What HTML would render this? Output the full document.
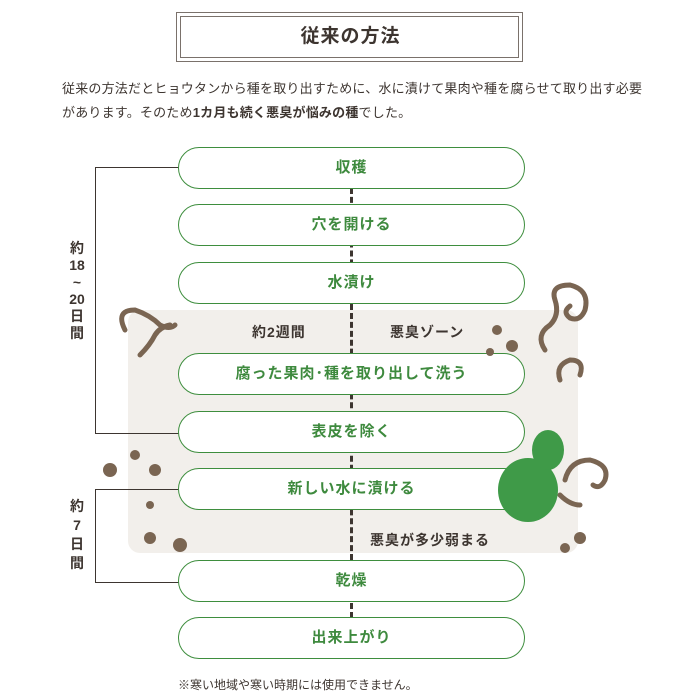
<!DOCTYPE html>
<html><head><meta charset="utf-8"><style>
body{margin:0;width:700px;height:700px;background:#fff;position:relative;overflow:hidden;font-family:"Liberation Sans","Noto Sans CJK JP",sans-serif;color:#3d3530}
.a{position:absolute}
.pill{position:absolute;left:178px;width:345px;height:40px;border:1.6px solid #3e8e3e;border-radius:21px;background:#fff;color:#3e8a3e;font-size:15px;font-weight:bold;text-align:center;line-height:40px;letter-spacing:1px}
.dash{position:absolute;left:350px;width:0;border-left:3px dashed #3d3530}
.lbl{position:absolute;font-size:14px;font-weight:bold;color:#3d3530;letter-spacing:1px}
</style></head><body>
<div class="a" style="left:176px;top:12px;width:345px;height:48px;border:1.5px solid #7a716b"></div>
<div class="a" style="left:180px;top:16px;width:337px;height:40px;border:1px solid #7a716b"></div>
<div class="a" style="left:176px;top:21px;width:349px;text-align:center;font-size:19px;font-weight:bold;letter-spacing:1px">従来の方法</div>
<div class="a" style="left:62px;top:77px;white-space:nowrap;font-size:13px;line-height:24px;color:#3d3530;letter-spacing:0.2px">従来の方法だとヒョウタンから種を取り出すために、水に漬けて果肉や種を腐らせて取り出す必要<br>があります。そのため<b>1カ月も続く悪臭が悩みの種</b>でした。</div>
<div class="a" style="left:128px;top:310px;width:450px;height:243px;background:#f2efeb;border-radius:12px"></div>
<div class="dash" style="top:188px;height:372px"></div>
<div class="dash" style="top:603px;height:15px"></div>
<div class="a" style="left:95px;top:167px;width:83px;height:265px;border:1.5px solid #3d3530;border-right:none"></div>
<div class="a" style="left:95px;top:489px;width:83px;height:92px;border:1.5px solid #3d3530;border-right:none"></div>
<div class="a" style="left:62px;top:240px;width:30px;background:#fff;text-align:center;font-size:14px;font-weight:bold;line-height:17px">約<br>18<br>~<br>20<br>日<br>間</div>
<div class="a" style="left:62px;top:497px;width:30px;background:#fff;text-align:center;font-size:14px;font-weight:bold;line-height:19px">約<br>7<br>日<br>間</div>
<div class="lbl" style="left:252px;top:322px">約2週間</div>
<div class="lbl" style="left:390px;top:322px">悪臭ゾーン</div>
<div class="lbl" style="left:370px;top:530px">悪臭が多少弱まる</div>
<div class="pill" style="top:147px">収穫</div>
<div class="pill" style="top:204px">穴を開ける</div>
<div class="pill" style="top:262px">水漬け</div>
<div class="pill" style="top:353px">腐った果肉･種を取り出して洗う</div>
<div class="pill" style="top:411px">表皮を除く</div>
<div class="pill" style="top:468px">新しい水に漬ける</div>
<div class="pill" style="top:560px">乾燥</div>
<div class="pill" style="top:617px">出来上がり</div>
<svg class="a" style="left:0;top:0" width="700" height="700">
<g fill="none" stroke="#7a6552" stroke-width="5" stroke-linecap="round">
<path d="M125 330 q-10 -20 10 -20 q15 5 25 15 q10 5 15 0"/>
<path d="M140 355 q10 -10 15 -20 q5 -8 15 -10"/>
<path d="M545 350 q-10 -15 5 -25 q10 -10 5 -25 q-5 -15 15 -15 q20 5 15 25 q-5 12 -15 8 q-8 -6 0 -12"/>
<path d="M560 380 q-5 -15 10 -20 q15 0 10 15"/>
<path d="M565 480 q5 -20 25 -20 q20 5 15 20 q-5 10 -12 5"/>
<path d="M560 495 q10 10 20 10"/>
</g>
<g fill="#7a6552">
<circle cx="512" cy="346" r="6"/><circle cx="490" cy="352" r="4"/><circle cx="497" cy="330" r="5"/>
<circle cx="110" cy="470" r="7"/><circle cx="135" cy="455" r="5"/><circle cx="155" cy="470" r="6"/>
<circle cx="150" cy="505" r="4"/><circle cx="150" cy="538" r="6"/><circle cx="180" cy="545" r="7"/>
<circle cx="580" cy="538" r="6"/><circle cx="565" cy="548" r="5"/>
</g>
<g fill="#3f9a48">
<ellipse cx="528" cy="490" rx="30" ry="32"/>
<ellipse cx="548" cy="450" rx="16" ry="20"/>
</g>
</svg>
<div class="a" style="left:178px;top:676px;font-size:12px;color:#3d3530">※寒い地域や寒い時期には使用できません。</div>
</body></html>
